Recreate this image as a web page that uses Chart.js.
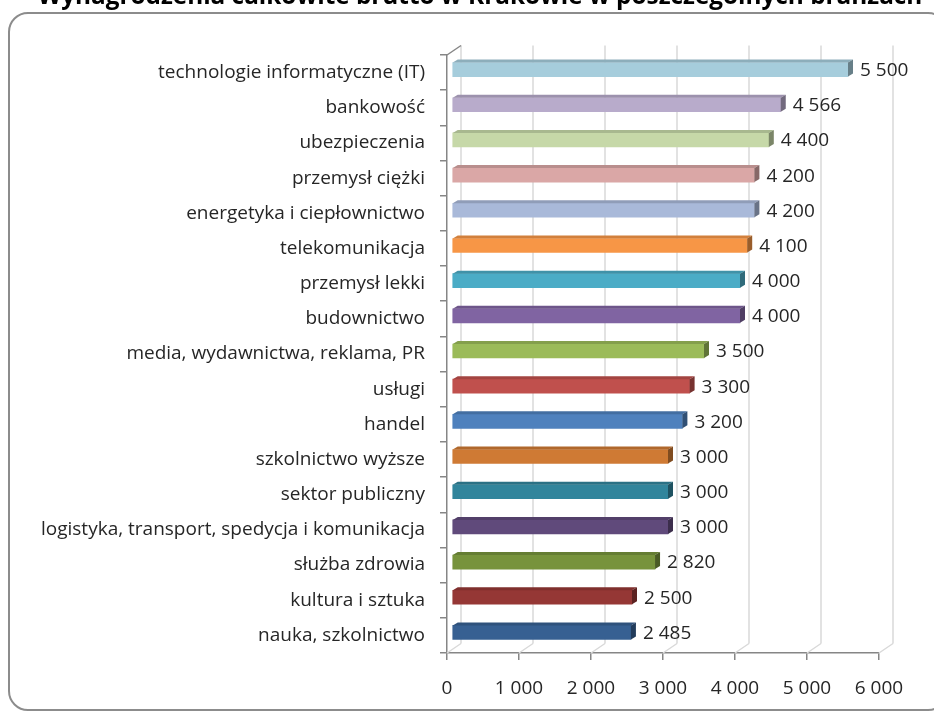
<!DOCTYPE html>
<html>
<head>
<meta charset="utf-8">
<script src="https://cdn.jsdelivr.net/npm/chart.js@4.4.1/dist/chart.umd.min.js"></script>
<style>
  html, body { margin: 0; padding: 0; background: #fff; overflow: hidden; }
  #frame {
    position: absolute; left: 8px; top: 12px; width: 940px; height: 699px;
    border: 2px solid #8c8c8c; border-radius: 20px; box-sizing: border-box;
  }
  #chart { position: absolute; left: 0; top: 0; }
</style>
</head>
<body>
<div id="frame"></div>
<canvas id="chart" width="934" height="717"></canvas>
<script>
const chartTitle = 'Wynagrodzenia całkowite brutto w Krakowie w poszczególnych branżach';

const categories = [
    'technologie informatyczne (IT)',
    'bankowość',
    'ubezpieczenia',
    'przemysł ciężki',
    'energetyka i ciepłownictwo',
    'telekomunikacja',
    'przemysł lekki',
    'budownictwo',
    'media, wydawnictwa, reklama, PR',
    'usługi',
    'handel',
    'szkolnictwo wyższe',
    'sektor publiczny',
    'logistyka, transport, spedycja i komunikacja',
    'służba zdrowia',
    'kultura i sztuka',
    'nauka, szkolnictwo'
];

const salaries = [5500, 4566, 4400, 4200, 4200, 4100, 4000, 4000, 3500, 3300, 3200, 3000, 3000, 3000, 2820, 2500, 2485];

const barColors = [
    '#a6cddc', '#b8abcb', '#c6d8a8', '#daa7a6', '#a9b9d9', '#f79646',
    '#4bacc6', '#8064a2', '#9bbb59', '#c0504d', '#4f81bd', '#cf7a34',
    '#31859c', '#604a7b', '#77933c', '#953735', '#376092'
];

const axisTicks = [0, 1000, 2000, 3000, 4000, 5000, 6000];

const textColor = '#262626';
const fontFamily = '"Open Sans", sans-serif';
const labelFont = { family: fontFamily, size: 19 };

function fmt(v) {
    return String(v).replace(/\B(?=(\d{3})+(?!\d))/g, ' ');
}

function shade(hex, k) {
    const n = parseInt(hex.slice(1), 16);
    const r = Math.round(((n >> 16) & 255) * k);
    const g = Math.round(((n >> 8) & 255) * k);
    const b = Math.round((n & 255) * k);
    return `rgb(${r},${g},${b})`;
}

// back wall, floor and bar depth drawn around the library's bars
const depthPlugin = {
    id: 'depth',
    beforeDatasetsDraw(chart) {
        const { ctx, chartArea: a, scales: { x } } = chart;
        const dx = 14, dy = 9.5;
        ctx.save();
        ctx.strokeStyle = '#d9d9d9';
        ctx.lineWidth = 1.5;
        axisTicks.forEach(v => {
            const px = x.getPixelForValue(v);
            ctx.beginPath();
            ctx.moveTo(px + dx, a.top - dy);
            ctx.lineTo(px + dx, a.bottom - dy);
            ctx.moveTo(px, a.bottom);
            ctx.lineTo(px + dx, a.bottom - dy);
            ctx.stroke();
        });
        ctx.strokeStyle = '#868686';
        ctx.beginPath();
        ctx.moveTo(a.left, a.top);
        ctx.lineTo(a.left + dx, a.top - dy);
        ctx.stroke();
        ctx.restore();

        ctx.save();
        ctx.translate(5, -3);
    },
    afterDatasetsDraw(chart) {
        const { ctx } = chart;
        const meta = chart.getDatasetMeta(0);
        const d = 5, e = 3;
        meta.data.forEach((bar, i) => {
            const { x, y, base, height } = bar.getProps(['x', 'y', 'base', 'height'], true);
            const top = y - height / 2, bottom = y + height / 2;
            const c = barColors[i];
            ctx.fillStyle = shade(c, 0.85);
            ctx.beginPath();
            ctx.moveTo(base, top);
            ctx.lineTo(x, top);
            ctx.lineTo(x + d, top - e);
            ctx.lineTo(base + d, top - e);
            ctx.closePath();
            ctx.fill();
            ctx.fillStyle = shade(c, 0.62);
            ctx.beginPath();
            ctx.moveTo(x, top);
            ctx.lineTo(x + d, top - e);
            ctx.lineTo(x + d, bottom - e);
            ctx.lineTo(x, bottom);
            ctx.closePath();
            ctx.fill();
        });
        ctx.restore();

        ctx.save();
        ctx.font = `${labelFont.size}px ${labelFont.family}`;
        ctx.fillStyle = textColor;
        ctx.textAlign = 'left';
        ctx.textBaseline = 'middle';
        meta.data.forEach((bar, i) => {
            ctx.fillText(fmt(salaries[i]), bar.x + 17, bar.y - 2);
        });
        ctx.restore();
    },
    afterDraw(chart) {
        const { ctx } = chart;
        ctx.save();
        ctx.font = `bold 25px ${fontFamily}`;
        const size = 25 * 885 / ctx.measureText(chartTitle).width;
        ctx.font = `bold ${size}px ${fontFamily}`;
        ctx.fillStyle = '#000';
        ctx.textAlign = 'center';
        ctx.textBaseline = 'alphabetic';
        ctx.fillText(chartTitle, 480, 4);
        ctx.restore();
    }
};

new Chart(document.getElementById('chart'), {
    type: 'bar',
    data: {
        labels: categories,
        datasets: [{
            data: salaries,
            backgroundColor: barColors,
            borderWidth: 0,
            barThickness: 14
        }]
    },
    options: {
        indexAxis: 'y',
        responsive: false,
        animation: false,
        layout: { padding: { top: 55, right: 55, bottom: 0, left: 0 } },
        plugins: {
            legend: { display: false },
            tooltip: { enabled: false }
        },
        scales: {
            y: {
                afterFit(scale) { scale.width = 447; },
                grid: { drawOnChartArea: false, drawTicks: true, tickLength: 7, color: '#868686', lineWidth: 1.5, offset: true },
                border: { display: true, color: '#868686', width: 1.5 },
                ticks: { padding: 15, color: textColor, font: labelFont }
            },
            x: {
                min: 0,
                max: 6000,
                afterFit(scale) { scale.height = 64; },
                grid: { drawOnChartArea: false, drawTicks: true, tickLength: 7, color: '#868686', lineWidth: 1.5 },
                border: { display: true, color: '#868686', width: 1.5 },
                ticks: { stepSize: 1000, padding: 17, color: textColor, font: labelFont, callback: v => fmt(v) }
            }
        }
    },
    plugins: [depthPlugin]
});
</script>
</body>
</html>
